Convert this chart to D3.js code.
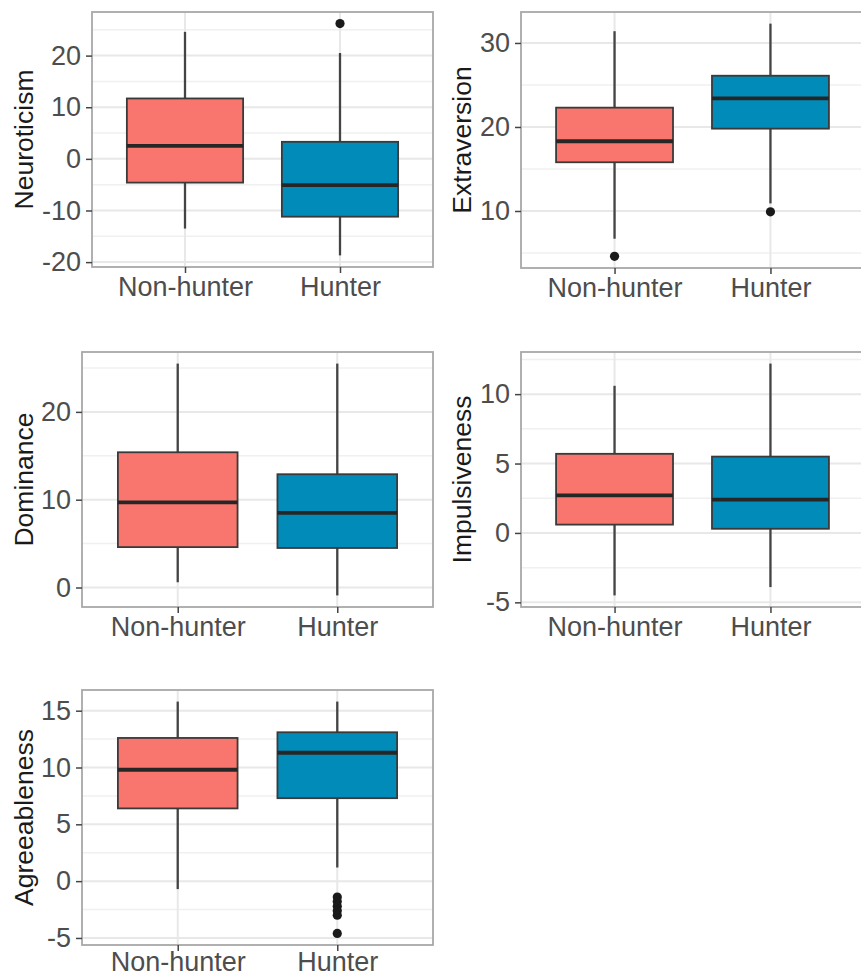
<!DOCTYPE html>
<html>
<head>
<meta charset="utf-8">
<script src="https://cdn.jsdelivr.net/npm/d3@7"></script>
<style>
  body { margin: 0; background: #fff; }
  svg { display: block; font-family: "Liberation Sans", Arial, sans-serif; }
</style>
</head>
<body>
<svg id="chart" width="861" height="979"></svg>
<script>
const categories = ['Non-hunter', 'Hunter'];
const fills = ['#F8766D', '#008BB8'];

// box stats per group: [lower whisker, Q1, median, Q3, upper whisker]
const neuroticismStats = [[-13.5, -4.6, 2.5, 11.7, 24.6], [-18.7, -11.2, -5.1, 3.3, 20.5]];
const neuroticismOutliers = [[], [26.2]];
const neuroticismTicks = [-20, -10, 0, 10, 20];

const extraversionStats = [[6.7, 15.8, 18.3, 22.3, 31.4], [10.9, 19.8, 23.4, 26.1, 32.3]];
const extraversionOutliers = [[4.6], [9.9]];
const extraversionTicks = [10, 20, 30];

const dominanceStats = [[0.6, 4.6, 9.7, 15.4, 25.5], [-0.9, 4.5, 8.5, 12.9, 25.5]];
const dominanceOutliers = [[], []];
const dominanceTicks = [0, 10, 20];

const impulsivenessStats = [[-4.5, 0.6, 2.7, 5.7, 10.6], [-3.9, 0.3, 2.4, 5.5, 12.2]];
const impulsivenessOutliers = [[], []];
const impulsivenessTicks = [-5, 0, 5, 10];

const agreeablenessStats = [[-0.7, 6.4, 9.8, 12.6, 15.8], [1.2, 7.3, 11.3, 13.1, 15.8]];
const agreeablenessOutliers = [[], [-1.4, -1.8, -2.2, -2.6, -3.0, -4.6]];
const agreeablenessTicks = [-5, 0, 5, 10, 15];

const svg = d3.select('#chart');
svg.append('rect').attr('width', 861).attr('height', 979).attr('fill', '#fff');

function drawPanel(title, stats, outliers, ticks, box) {
    const g = svg.append('g');

    // y range = data range + 5% each side, like ggplot
    const all = stats.flat().concat(outliers.flat());
    const lo = d3.min(all), hi = d3.max(all);
    const pad = (hi - lo) * 0.05;
    const y = d3.scaleLinear().domain([lo - pad, hi + pad]).range([box.y1, box.y0]);
    const x = d3.scalePoint().domain(categories).range([box.x0, box.x1]).padding(0.6);
    const bw = x.step() * 0.75;

    // minor grid lines halfway between ticks
    const step = ticks[1] - ticks[0];
    const minor = d3.range(ticks[0] - step / 2, hi + pad, step).filter(v => v > lo - pad);
    g.selectAll('.minor').data(minor).enter().append('line')
        .attr('x1', box.x0).attr('x2', box.x1)
        .attr('y1', d => y(d)).attr('y2', d => y(d))
        .attr('stroke', '#f0f0f0').attr('stroke-width', 1.5);
    g.selectAll('.major').data(ticks).enter().append('line')
        .attr('x1', box.x0).attr('x2', box.x1)
        .attr('y1', d => y(d)).attr('y2', d => y(d))
        .attr('stroke', '#e8e8e8').attr('stroke-width', 2);
    g.selectAll('.vgrid').data(categories).enter().append('line')
        .attr('x1', d => x(d)).attr('x2', d => x(d))
        .attr('y1', box.y0).attr('y2', box.y1)
        .attr('stroke', '#e8e8e8').attr('stroke-width', 2);

    stats.forEach((s, i) => {
        const cx = x(categories[i]);
        // whiskers
        g.append('line').attr('x1', cx).attr('x2', cx).attr('y1', y(s[4])).attr('y2', y(s[3]))
            .attr('stroke', '#444').attr('stroke-width', 2.3);
        g.append('line').attr('x1', cx).attr('x2', cx).attr('y1', y(s[1])).attr('y2', y(s[0]))
            .attr('stroke', '#444').attr('stroke-width', 2.3);
        g.append('rect')
            .attr('x', cx - bw / 2).attr('width', bw)
            .attr('y', y(s[3])).attr('height', y(s[1]) - y(s[3]))
            .attr('fill', fills[i]).attr('stroke', '#3a3a3a').attr('stroke-width', 1.8);
        g.append('line').attr('x1', cx - bw / 2).attr('x2', cx + bw / 2)
            .attr('y1', y(s[2])).attr('y2', y(s[2]))
            .attr('stroke', '#262626').attr('stroke-width', 3.8);
        g.selectAll(null).data(outliers[i]).enter().append('circle')
            .attr('cx', cx).attr('cy', d => y(d)).attr('r', 4.6).attr('fill', '#1a1a1a');
    });

    // panel border
    g.append('rect').attr('x', box.x0).attr('y', box.y0)
        .attr('width', box.x1 - box.x0).attr('height', box.y1 - box.y0)
        .attr('fill', 'none').attr('stroke', '#a8a8a8').attr('stroke-width', 1.8);

    // axes
    const yAxis = g.append('g').attr('transform', `translate(${box.x0},0)`)
        .call(d3.axisLeft(y).tickValues(ticks).tickFormat(d => String(d)).tickSize(6).tickPadding(5));
    const xAxis = g.append('g').attr('transform', `translate(0,${box.y1})`)
        .call(d3.axisBottom(x).tickSize(6).tickPadding(box.xpad || 5));
    [yAxis, xAxis].forEach(a => {
        a.select('.domain').remove();
        a.selectAll('line').attr('stroke', '#444').attr('stroke-width', 1.5);
        a.selectAll('text').attr('fill', '#4d4d4d').style('font-size', '27px')
            .style('font-family', '"Liberation Sans", Arial, sans-serif');
    });
    xAxis.selectAll('text').attr('dy', '0.68em');

    g.append('text')
        .attr('transform', `translate(${box.tx},${(box.y0 + box.y1) / 2}) rotate(-90)`)
        .attr('text-anchor', 'middle').attr('dominant-baseline', 'central')
        .attr('fill', '#1a1a1a').style('font-size', '26.5px')
        .text(title);
}

drawPanel('Neuroticism', neuroticismStats, neuroticismOutliers, neuroticismTicks,
    {x0: 92, x1: 433, y0: 12, y1: 267, tx: 24});
drawPanel('Extraversion', extraversionStats, extraversionOutliers, extraversionTicks,
    {x0: 521, x1: 864, y0: 12, y1: 268, tx: 462});
drawPanel('Dominance', dominanceStats, dominanceOutliers, dominanceTicks,
    {x0: 82, x1: 433, y0: 352, y1: 607, tx: 24});
drawPanel('Impulsiveness', impulsivenessStats, impulsivenessOutliers, impulsivenessTicks,
    {x0: 521, x1: 864, y0: 352, y1: 607, tx: 462});
// bottom labels sit close to the page edge, pull them up a little
drawPanel('Agreeableness', agreeablenessStats, agreeablenessOutliers, agreeablenessTicks,
    {x0: 82, x1: 433, y0: 690, y1: 945, tx: 24, xpad: 1.5});
</script>
</body>
</html>
